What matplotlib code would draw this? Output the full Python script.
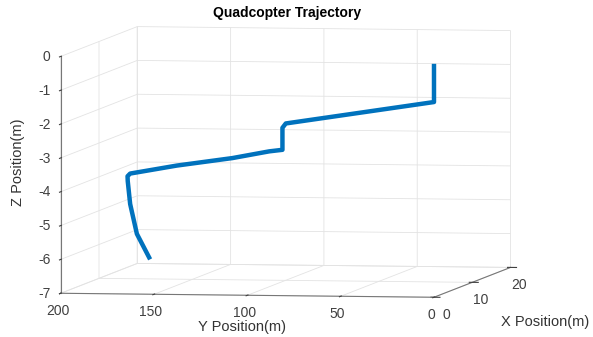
import numpy as np
import matplotlib.pyplot as plt

plt.rcParams['font.family'] = ['Liberation Sans', 'DejaVu Sans']
plt.rcParams['axes.unicode_minus'] = False

# trajectory (X kept at 0)
pos_x = [0, 0, 0, 0, 0, 0, 0, 0, 0, 0, 0, 0, 0, 0]
pos_y = [0.0, 0.0, 79.4, 81.2, 81.2, 88.3, 108.0, 137.9, 162.8, 164.2, 164.1, 162.8, 159.2, 152.1]
pos_z = [-0.1, -1.23, -1.91, -2.04, -2.69, -2.74, -2.95, -3.19, -3.44, -3.52, -3.66, -4.34, -5.22, -5.97]

x_ticks = [0, 10, 20]
y_ticks = [0, 50, 100, 150, 200]
z_ticks = [-7, -6, -5, -4, -3, -2, -1, 0]

fig = plt.figure(figsize=(5.93, 3.37), dpi=100)
ax = fig.add_axes([-0.026, 0.006, 1.0, 1.0], projection='3d', proj_type='ortho')

ax.plot(pos_x, pos_y, pos_z, color='#0072BD', linewidth=3.2, solid_capstyle='butt')

ax.set_xlim(0, 20)
ax.set_ylim(0, 200)
ax.set_zlim(-7, 0)
ax.set_xticks(x_ticks)
ax.set_yticks(y_ticks)
ax.set_zticks(z_ticks)

ax.view_init(elev=3.7, azim=-170.6)
ax.set_box_aspect((472, 381, 239), zoom=1.865)

grid_col = '#e3e3e3'
for axis in (ax.xaxis, ax.yaxis, ax.zaxis):
    axis.set_pane_color((1, 1, 1, 0))
    axis.pane.set_edgecolor(grid_col)
    axis._axinfo['grid']['color'] = grid_col
    axis._axinfo['grid']['linewidth'] = 0.6
    axis.line.set_color('#777777')
    axis.line.set_linewidth(0.8)
ax.tick_params(labelsize=10, colors='#404040')
ax.tick_params(axis='x', pad=-2.5)
ax.tick_params(axis='y', pad=-3)
ax.tick_params(axis='z', pad=-5.1)

# MATLAB style label anchoring
for t in ax.zaxis.get_major_ticks():
    t.label1.set_horizontalalignment('right')
    t.label1.set_verticalalignment('center')
for t in ax.xaxis.get_major_ticks():
    t.label1.set_horizontalalignment('right')
    t.label1.set_verticalalignment('top')

# axis titles placed by hand, MATLAB keeps them horizontal
fig.text(0.5 * (193 + 290) / 593, 1 - 327 / 337, 'Y Position(m)', fontsize=10.5,
         color='#333333', ha='center', va='center')
fig.text(545 / 593, 1 - 322 / 337, 'X Position(m)', fontsize=10.5,
         color='#333333', ha='center', va='center')
fig.text(18 / 593, 1 - 162 / 337, 'Z Position(m)', fontsize=10.5, rotation=90,
         color='#333333', ha='center', va='center')
fig.text(287 / 593, 1 - 13 / 337, 'Quadcopter Trajectory', fontsize=10,
         fontweight='bold', ha='center', va='center')

fig.savefig('out.png', dpi=100)
